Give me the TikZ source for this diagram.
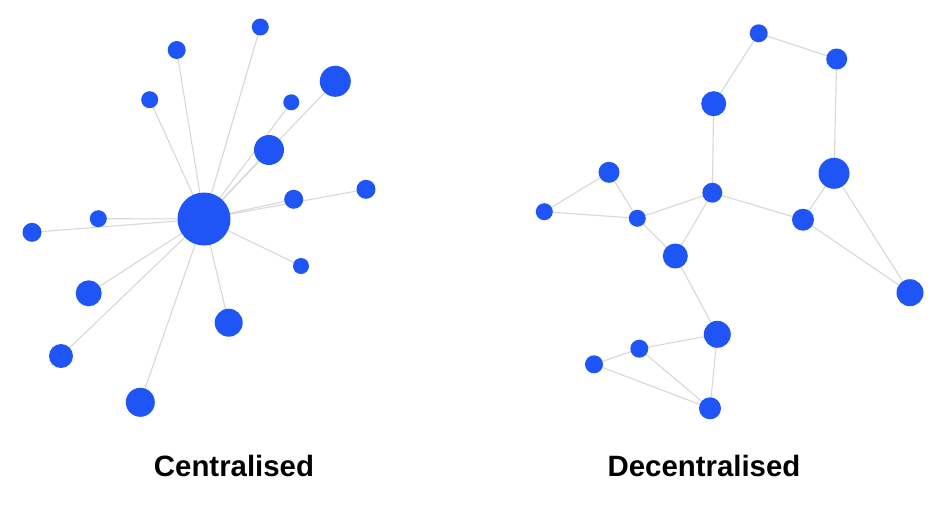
\documentclass[tikz,border=0pt]{standalone}
\usepackage{fontspec}
\setmainfont{Liberation Sans}
\usetikzlibrary{backgrounds}
\definecolor{nodeblue}{HTML}{1F55F7}
\definecolor{edgegray}{HTML}{D8D8D8}
\tikzset{
  dot/.style={circle, fill=nodeblue, draw=none, inner sep=0pt, minimum size=#1},
  link/.style={draw=edgegray, line width=1.1pt},
  caption/.style={font=\fontsize{29.4}{34}\selectfont\bfseries, text=black, inner sep=0pt}
}
\begin{document}
\begin{tikzpicture}[x=1pt,y=-1pt]
\useasboundingbox (0,0) rectangle (940,528);
\begin{scope}[on background layer]
\fill[white] (0,0) rectangle (940,528);
\end{scope}
% Centralised
\node[dot=53] (hub) at (204,219) {};
\node[dot=17] (c1) at (260.3,27) {};
\node[dot=18] (c2) at (176.7,50) {};
\node[dot=17] (c3) at (149.7,99.7) {};
\node[dot=31] (c4) at (335.3,81.3) {};
\node[dot=16] (c5) at (291.3,102.3) {};
\node[dot=30] (c6) at (269,150) {};
\node[dot=19] (c7) at (366,189.3) {};
\node[dot=19] (c8) at (293.7,199.3) {};
\node[dot=17] (c9) at (98.3,218.7) {};
\node[dot=19] (c10) at (32,232.3) {};
\node[dot=16] (c11) at (301,266) {};
\node[dot=26] (c12) at (88.7,293.3) {};
\node[dot=28] (c13) at (228.7,322.7) {};
\node[dot=24] (c14) at (61,356) {};
\node[dot=29] (c15) at (140.3,402.3) {};
\begin{scope}[on background layer]
\foreach \n in {c1,c2,c3,c4,c5,c6,c7,c8,c9,c10,c11,c12,c13,c14,c15}
  \draw[link] (hub.center) -- (\n.center);
\end{scope}
% Decentralised
\node[dot=18] (A) at (758.7,33.3) {};
\node[dot=21] (B) at (836.7,59) {};
\node[dot=25] (C) at (713.7,103.7) {};
\node[dot=31] (D) at (834,173.3) {};
\node[dot=21] (E) at (609,172.3) {};
\node[dot=20] (F) at (712.3,192.7) {};
\node[dot=17] (G) at (544.3,211.7) {};
\node[dot=17] (H) at (637.3,218.3) {};
\node[dot=22] (I) at (803,219.7) {};
\node[dot=25] (J) at (675.3,256) {};
\node[dot=27] (K) at (910,292.7) {};
\node[dot=27] (L) at (717.3,334.3) {};
\node[dot=18] (M) at (639.3,348.7) {};
\node[dot=18] (N) at (594,364.3) {};
\node[dot=22] (O) at (710,408.3) {};
\begin{scope}[on background layer]
\foreach \a/\b in {A/B,A/C,B/D,C/F,F/H,F/I,F/J,H/E,E/G,G/H,H/J,J/L,D/I,D/K,I/K,L/M,M/N,N/O,M/O,L/O}
  \draw[link] (\a.center) -- (\b.center);
\end{scope}
% Captions
\node[caption] (capC) at (234,466) {Centralised};
\node[caption] (capD) at (704,466) {Decentralised};
\end{tikzpicture}
\end{document}
